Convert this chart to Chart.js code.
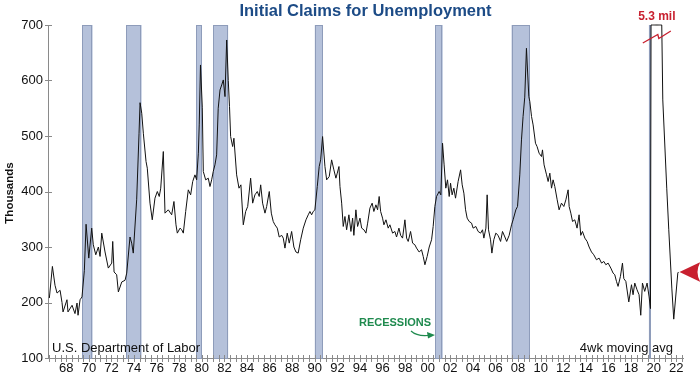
<!DOCTYPE html>
<html>
<head>
<meta charset="utf-8">
<script src="https://cdn.jsdelivr.net/npm/chart.js@4.4.1/dist/chart.umd.min.js"></script>
<style>
  html, body { margin: 0; padding: 0; background: #fff; }
  canvas { display: block; }
</style>
</head>
<body>
<canvas id="claims" width="700" height="378"></canvas>
<script>
// 4-week moving average of initial claims (thousands)
const claimYears = [
    1967.00, 1967.27, 1967.50, 1967.68, 1967.95, 1968.12, 1968.21, 1968.56, 1968.65, 1969.01,
    1969.27, 1969.45, 1969.54, 1969.72, 1969.89, 1970.10, 1970.25, 1970.49, 1970.75, 1970.89,
    1971.11, 1971.34, 1971.49, 1971.64, 1971.93, 1972.22, 1972.52, 1972.61, 1972.73, 1972.96,
    1973.11, 1973.41, 1973.70, 1973.85, 1974.14, 1974.29, 1974.43, 1974.73, 1974.94, 1975.03,
    1975.18, 1975.32, 1975.56, 1975.67, 1975.91, 1976.11, 1976.35, 1976.56, 1976.73, 1976.86,
    1977.09, 1977.24, 1977.53, 1977.83, 1978.03, 1978.21, 1978.33, 1978.57, 1978.72, 1978.86,
    1979.07, 1979.30, 1979.51, 1979.69, 1979.89, 1980.04, 1980.19, 1980.27, 1980.38, 1980.54,
    1980.63, 1980.84, 1981.07, 1981.22, 1981.37, 1981.51, 1981.66, 1981.81, 1981.95, 1982.11,
    1982.26, 1982.40, 1982.55, 1982.70, 1982.84, 1982.95, 1983.05, 1983.23, 1983.34, 1983.58,
    1983.79, 1983.96, 1984.17, 1984.38, 1984.56, 1984.82, 1985.00, 1985.20, 1985.41, 1985.58,
    1985.71, 1985.88, 1986.09, 1986.24, 1986.47, 1986.65, 1986.82, 1986.97, 1987.18, 1987.35,
    1987.57, 1987.71, 1987.86, 1988.06, 1988.24, 1988.45, 1988.65, 1988.83, 1989.03, 1989.25,
    1989.48, 1989.72, 1989.92, 1990.07, 1990.22, 1990.36, 1990.51, 1990.72, 1990.89, 1991.02,
    1991.19, 1991.40, 1991.55, 1991.78, 1991.99, 1992.19, 1992.37, 1992.49, 1992.64, 1992.73,
    1992.88, 1993.02, 1993.17, 1993.32, 1993.52, 1993.70, 1993.85, 1993.96, 1994.14, 1994.29,
    1994.50, 1994.65, 1994.85, 1995.03, 1995.18, 1995.38, 1995.58, 1995.73, 1995.91, 1996.06,
    1996.20, 1996.33, 1996.50, 1996.62, 1996.80, 1997.00, 1997.15, 1997.39, 1997.59, 1997.74,
    1997.95, 1998.10, 1998.27, 1998.48, 1998.63, 1998.77, 1998.98, 1999.16, 1999.36, 1999.51,
    1999.74, 1999.95, 2000.10, 2000.25, 2000.45, 2000.63, 2000.84, 2000.98, 2001.13, 2001.28,
    2001.51, 2001.66, 2001.81, 2001.95, 2002.10, 2002.25, 2002.40, 2002.52, 2002.66, 2002.81,
    2002.96, 2003.19, 2003.41, 2003.55, 2003.70, 2003.85, 2003.99, 2004.17, 2004.38, 2004.52,
    2004.76, 2004.96, 2005.18, 2005.35, 2005.47, 2005.65, 2005.76, 2005.88, 2006.06, 2006.18,
    2006.35, 2006.53, 2006.73, 2006.95, 2007.12, 2007.33, 2007.49, 2007.71, 2007.92, 2008.06,
    2008.30, 2008.45, 2008.65, 2008.80, 2008.94, 2009.09, 2009.24, 2009.45, 2009.54, 2009.69,
    2009.83, 2010.04, 2010.18, 2010.36, 2010.57, 2010.66, 2010.80, 2011.02, 2011.16, 2011.31,
    2011.46, 2011.60, 2011.75, 2011.96, 2012.13, 2012.34, 2012.55, 2012.73, 2012.93, 2013.02,
    2013.17, 2013.32, 2013.52, 2013.72, 2013.90, 2014.05, 2014.20, 2014.41, 2014.61, 2014.79,
    2015.00, 2015.20, 2015.44, 2015.67, 2015.89, 2016.09, 2016.27, 2016.47, 2016.71, 2016.91,
    2017.06, 2017.21, 2017.35, 2017.56, 2017.74, 2017.86, 2018.04, 2018.30, 2018.54, 2018.68,
    2018.83, 2019.03, 2019.21, 2019.36, 2019.51, 2019.71, 2019.92, 2020.10, 2020.22, 2020.27,
    2020.30, 2020.33, 2020.40, 2020.50, 2020.60, 2020.70, 2020.80, 2020.90, 2021.00, 2021.10,
    2021.22, 2021.31, 2021.66, 2021.84, 2022.11, 2022.28, 2022.64, 2022.70
];
const claimValues = [
    208, 265, 231, 217, 222, 200, 183, 205, 183, 195,
    180, 199, 177, 205, 210, 258, 341, 280, 334, 304,
    286, 300, 283, 325, 291, 262, 271, 310, 255, 250,
    219, 237, 240, 253, 318, 307, 289, 385, 505, 560,
    541, 505, 454, 442, 379, 349, 388, 400, 391, 406,
    472, 361, 367, 358, 382, 340, 325, 334, 331, 325,
    364, 403, 394, 418, 430, 421, 469, 520, 628, 552,
    436, 421, 424, 409, 421, 436, 448, 466, 550, 583,
    592, 601, 571, 673, 600, 553, 499, 481, 496, 430,
    406, 412, 340, 364, 373, 424, 379, 394, 400, 391,
    412, 379, 361, 373, 400, 361, 346, 340, 334, 318,
    321, 316, 298, 325, 307, 328, 300, 291, 289, 313,
    334, 349, 358, 364, 358, 364, 367, 409, 445, 457,
    499, 445, 421, 427, 457, 439, 424, 433, 445, 409,
    379, 337, 355, 331, 358, 328, 352, 321, 367, 337,
    352, 334, 331, 325, 343, 370, 379, 364, 376, 367,
    391, 364, 352, 340, 349, 334, 340, 325, 328, 318,
    334, 321, 316, 349, 316, 310, 328, 307, 304, 298,
    291, 295, 283, 268, 283, 300, 313, 337, 373, 391,
    400, 394, 487, 448, 406, 421, 391, 415, 394, 406,
    388, 418, 439, 412, 397, 367, 352, 346, 343, 334,
    337, 328, 325, 331, 316, 334, 394, 331, 313, 289,
    313, 325, 321, 310, 328, 318, 310, 321, 340, 349,
    367, 373, 430, 493, 535, 570, 658, 571, 562, 535,
    520, 487, 481, 469, 463, 475, 448, 430, 418, 433,
    406, 421, 409, 385, 367, 379, 373, 385, 403, 373,
    361, 346, 349, 334, 358, 321, 328, 316, 310, 300,
    291, 286, 277, 280, 271, 274, 268, 271, 262, 253,
    250, 238, 229, 247, 271, 243, 238, 201, 232, 214,
    235, 223, 214, 177, 235, 220, 235, 210, 189, 1500,
    4300, 5300, 3700, 2000, 1400, 1000, 870, 780, 830, 790,
    720, 565, 406, 331, 226, 170, 253, 255
];

// recessions (decimal years)
const recessionStarts = [1969.92, 1973.83, 1980.0, 1981.5, 1990.5, 2001.17, 2007.92, 2020.08];
const recessionEnds = [1970.83, 1975.17, 1980.5, 1982.83, 1991.17, 2001.83, 2009.5, 2020.25];

const xLabelYears = [1968, 1970, 1972, 1974, 1976, 1978, 1980, 1982, 1984, 1986, 1988, 1990, 1992, 1994,
    1996, 1998, 2000, 2002, 2004, 2006, 2008, 2010, 2012, 2014, 2016, 2018, 2020, 2022];
const xLabels = ["68", "70", "72", "74", "76", "78", "80", "82", "84", "86", "88", "90", "92", "94",
    "96", "98", "00", "02", "04", "06", "08", "10", "12", "14", "16", "18", "20", "22"];
const yTicks = [100, 200, 300, 400, 500, 600, 700];

const Y_MAX = 700;
const FONT = "'Liberation Sans', Arial, Helvetica, sans-serif";
const AXIS_COLOR = "#8a8a8a";

// half-year tick marks along the bottom
const halfYears = [];
for (let v = 1967; v <= 2023; v += 0.5) halfYears.push(v);

// the 2020 spike runs off the top, so the plotted line is capped at the axis max
const points = claimYears.map((yr, i) => ({ x: yr, y: Math.min(claimValues[i], Y_MAX) }));

const recessionPlugin = {
    id: "recessions",
    beforeDatasetsDraw(chart) {
        const { ctx, chartArea, scales } = chart;
        ctx.save();
        ctx.fillStyle = "#b5c1da";
        ctx.strokeStyle = "#8e9cba";
        ctx.lineWidth = 1;
        for (let i = 0; i < recessionStarts.length; i++) {
            const x0 = scales.x.getPixelForValue(recessionStarts[i]);
            const x1 = scales.x.getPixelForValue(recessionEnds[i]);
            ctx.fillRect(x0, chartArea.top, x1 - x0, chartArea.bottom - chartArea.top);
            ctx.strokeRect(Math.round(x0) + 0.5, chartArea.top + 0.5, Math.max(1, Math.round(x1 - x0) - 1), chartArea.bottom - chartArea.top);
        }
        ctx.restore();
    },
};

const decorPlugin = {
    id: "decor",
    afterDraw(chart) {
        const { ctx, chartArea, scales } = chart;
        const xs = scales.x;
        const ys = scales.y;
        ctx.save();

        // tick marks crossing the axes
        ctx.strokeStyle = AXIS_COLOR;
        ctx.lineWidth = 1;
        ctx.beginPath();
        halfYears.forEach((v) => {
            const px = Math.round(xs.getPixelForValue(v)) + 0.5;
            ctx.moveTo(px, chartArea.bottom - 3);
            ctx.lineTo(px, chartArea.bottom + 4);
        });
        yTicks.forEach((v) => {
            const py = Math.round(ys.getPixelForValue(v)) + 0.5;
            ctx.moveTo(chartArea.left - 3, py);
            ctx.lineTo(chartArea.left + 4, py);
        });
        ctx.stroke();

        // title
        ctx.fillStyle = "#1c4b86";
        ctx.font = "bold 16.5px " + FONT;
        ctx.textAlign = "center";
        ctx.textBaseline = "middle";
        ctx.fillText("Initial Claims for Unemployment", (chartArea.left + chartArea.right) / 2, 11);

        // y axis title
        ctx.save();
        ctx.translate(10, 193);
        ctx.rotate(-Math.PI / 2);
        ctx.fillStyle = "#111";
        ctx.font = "bold 11.5px " + FONT;
        ctx.fillText("Thousands", 0, 0);
        ctx.restore();

        // source and note
        ctx.fillStyle = "#111";
        ctx.font = "13px " + FONT;
        ctx.textAlign = "left";
        ctx.fillText("U.S. Department of Labor", 52, 348);
        ctx.textAlign = "right";
        ctx.fillText("4wk moving avg", 673, 348);

        // recessions label with curved arrow
        ctx.fillStyle = "#1f8a4e";
        ctx.strokeStyle = "#1f8a4e";
        ctx.font = "bold 11px " + FONT;
        ctx.textAlign = "center";
        ctx.fillText("RECESSIONS", 395, 323);
        ctx.lineWidth = 1.2;
        ctx.beginPath();
        ctx.moveTo(411, 331);
        ctx.quadraticCurveTo(417, 336.5, 428, 335.5);
        ctx.stroke();
        ctx.beginPath();
        ctx.moveTo(435, 335);
        ctx.lineTo(427, 332);
        ctx.lineTo(428, 338.5);
        ctx.closePath();
        ctx.fill();

        // break mark over the 2020 spike
        const sx = xs.getPixelForValue(2020.25);
        ctx.strokeStyle = "#c8202f";
        ctx.lineWidth = 1.3;
        ctx.beginPath();
        ctx.moveTo(sx - 8, 43);
        ctx.lineTo(sx + 7, 34.5);
        ctx.lineTo(sx + 8, 38.5);
        ctx.lineTo(sx + 20, 31);
        ctx.stroke();
        ctx.fillStyle = "#c8202f";
        ctx.font = "bold 12px " + FONT;
        ctx.textAlign = "center";
        ctx.fillText("5.3 mil", sx + 6, 17);

        // red marker at the latest reading
        const last = points[points.length - 1];
        const lx = xs.getPixelForValue(last.x) + 1;
        const ly = ys.getPixelForValue(last.y);
        ctx.fillStyle = "#c8202f";
        ctx.beginPath();
        ctx.moveTo(lx, ly);
        ctx.lineTo(lx + 21, ly - 10);
        ctx.quadraticCurveTo(lx + 15, ly, lx + 21, ly + 10);
        ctx.closePath();
        ctx.fill();

        ctx.restore();
    },
};

const ctx = document.getElementById("claims").getContext("2d");

new Chart(ctx, {
    type: "line",
    data: {
        datasets: [
            {
                label: "Initial claims",
                data: points,
                borderColor: "#111111",
                borderWidth: 1,
                pointRadius: 0,
                tension: 0,
                fill: false,
                clip: 3,
            },
        ],
    },
    options: {
        responsive: false,
        animation: false,
        layout: { padding: { top: 25, right: 17, left: 0, bottom: 0 } },
        plugins: {
            legend: { display: false },
            tooltip: { enabled: false },
        },
        scales: {
            x: {
                type: "linear",
                min: 1966.88,
                max: 2023.1,
                afterBuildTicks: (scale) => {
                    scale.ticks = halfYears.map((v) => ({ value: v }));
                },
                afterFit: (scale) => {
                    scale.height = 20;
                },
                ticks: {
                    autoSkip: false,
                    maxRotation: 0,
                    padding: 3,
                    color: "#111",
                    font: { size: 13, family: FONT },
                    callback: (v) => {
                        const idx = xLabelYears.indexOf(v - 0.5);
                        return idx >= 0 ? xLabels[idx] : "";
                    },
                },
                grid: { display: true, drawOnChartArea: false, drawTicks: false },
                border: { display: true, color: AXIS_COLOR, width: 1 },
            },
            y: {
                min: 100,
                max: Y_MAX,
                afterBuildTicks: (scale) => {
                    scale.ticks = yTicks.map((v) => ({ value: v }));
                },
                afterFit: (scale) => {
                    scale.width = 48;
                },
                ticks: {
                    padding: 5,
                    color: "#111",
                    font: { size: 13, family: FONT },
                },
                grid: { display: true, drawOnChartArea: false, drawTicks: false },
                border: { display: true, color: AXIS_COLOR, width: 1 },
            },
        },
    },
    plugins: [recessionPlugin, decorPlugin],
});
</script>
</body>
</html>
